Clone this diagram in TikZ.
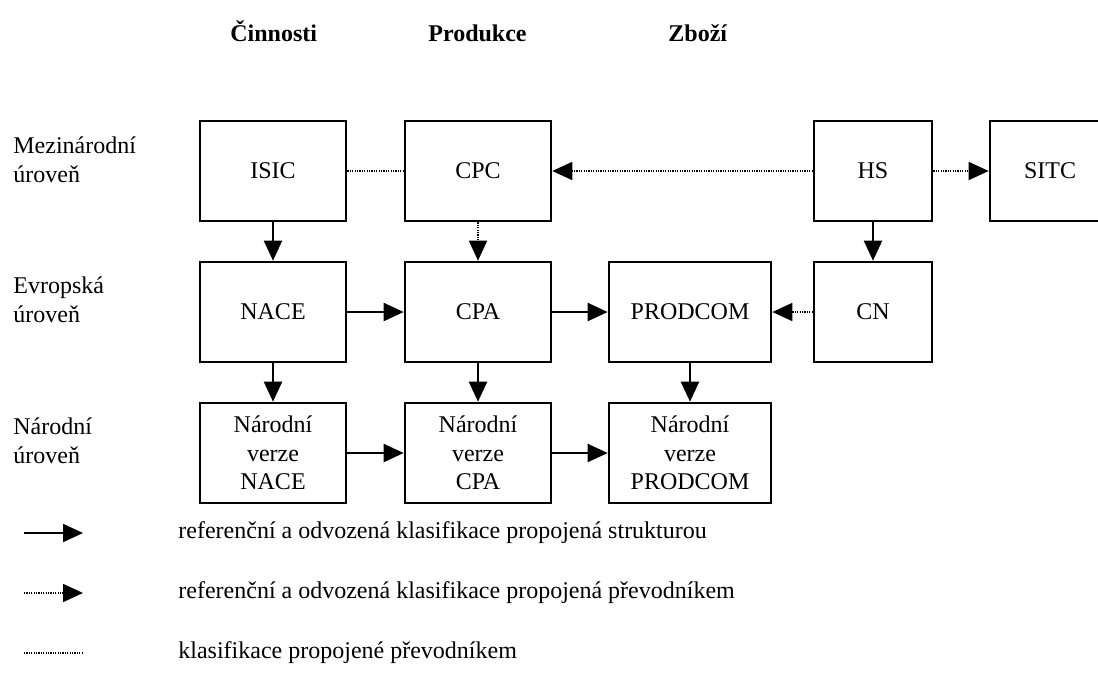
\documentclass[tikz,border=0pt]{standalone}
\usepackage{fontspec}
\setmainfont{Liberation Serif}
\usetikzlibrary{arrows.meta}

\begin{document}
\begin{tikzpicture}[x=0.5pt,y=-0.5pt,
		krabice/.style={draw,line width=1.3pt,minimum width=73pt,minimum height=50pt,inner sep=0pt,align=center,font=\fontsize{12}{14.2}\selectfont},
		plna/.style={line width=1pt,-{Triangle[length=10pt,width=9pt]}},
		tecky/.style={line width=0.8pt,dash pattern=on 0.6pt off 0.6pt},
		teckysip/.style={tecky,-{Triangle[length=10pt,width=9pt]}},
		popis/.style={inner sep=0pt,font=\fontsize{12}{14.2}\selectfont,align=left},
		nadpis/.style={inner sep=0pt,anchor=base west,font=\fontsize{12}{14}\selectfont\bfseries}]
			\useasboundingbox (0,0) rectangle (1098,677);
			\clip (0,0) rectangle (1098,677);
			% Nadpisy
			\node[nadpis] (cin) at (230,41) {Činnosti};
			\node[nadpis] (pro) at (428,41) {Produkce};
			\node[nadpis] (zbo) at (668,41) {Zboží};
			\node[popis,anchor=base west] (mez) at (13,182) {Mezinárodní\\úroveň};
			\node[popis,anchor=base west] (evr) at (13,322) {Evropská\\úroveň};
			\node[popis,anchor=base west] (nar) at (13,463) {Národní\\úroveň};
			% Krabice
			\node[krabice] (isic) at (273,171) {ISIC};
			\node[krabice] (cpc) at (478,171) {CPC};
			\node[krabice,minimum width=59pt] (hs) at (873,171) {HS};
			\node[krabice,minimum width=60pt] (sitc) at (1050,171) {SITC};
			\node[krabice] (nace) at (273,312) {NACE};
			\node[krabice] (cpa) at (478,312) {CPA};
			\node[krabice,minimum width=81pt] (prodcom) at (690,312) {PRODCOM};
			\node[krabice,minimum width=59pt] (cn) at (873,312) {CN};
			\node[krabice] (nnace) at (273,453) {Národní\\verze\\NACE};
			\node[krabice] (ncpa) at (478,453) {Národní\\verze\\CPA};
			\node[krabice,minimum width=81pt] (nprodcom) at (690,453) {Národní\\verze\\PRODCOM};
			% Spojnice
			\draw[tecky] (isic) -- (cpc);
			\draw[teckysip] (hs) -- (cpc);
			\draw[teckysip] (hs) -- (sitc);
			\draw[plna] (isic) -- (nace);
			\draw[teckysip] (cpc) -- (cpa);
			\draw[plna] (hs) -- (cn);
			\draw[plna] (nace) -- (cpa);
			\draw[plna] (cpa) -- (prodcom);
			\draw[teckysip] (cn) -- (prodcom);
			\draw[plna] (nace) -- (nnace);
			\draw[plna] (cpa) -- (ncpa);
			\draw[plna] (prodcom) -- (nprodcom);
			\draw[plna] (nnace) -- (ncpa);
			\draw[plna] (ncpa) -- (nprodcom);
			% Legenda
			\coordinate (l1a) at (24,533); \coordinate (l1b) at (83,533);
			\coordinate (l2a) at (24,593); \coordinate (l2b) at (83,593);
			\coordinate (l3a) at (24,653); \coordinate (l3b) at (83,653);
			\draw[plna] (l1a) -- (l1b);
			\draw[teckysip] (l2a) -- (l2b);
			\draw[tecky] (l3a) -- (l3b);
			\node[popis,anchor=west] (t1) at (178,533) {referenční a odvozená klasifikace propojená strukturou};
			\node[popis,anchor=west] (t2) at (178,593) {referenční a odvozená klasifikace propojená převodníkem};
			\node[popis,anchor=west] (t3) at (178,653) {klasifikace propojené převodníkem};
		\end{tikzpicture}
\end{document}
